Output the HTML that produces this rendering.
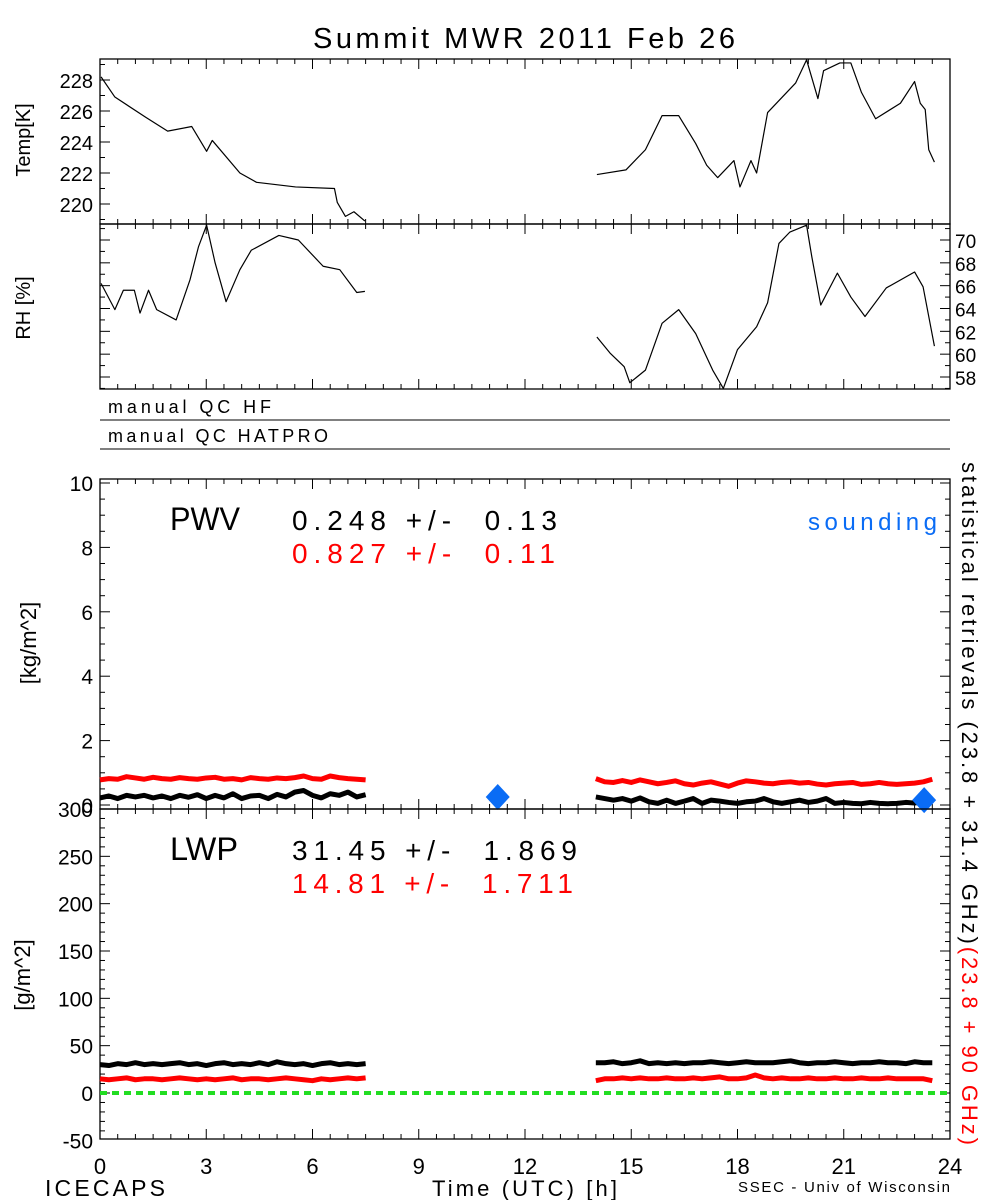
<!DOCTYPE html>
<html><head><meta charset="utf-8"><style>
html,body{margin:0;padding:0;background:#fff;}
svg{display:block;font-family:"Liberation Sans","DejaVu Sans",sans-serif;}
</style></head><body>
<svg id="c" width="1000" height="1200" viewBox="0 0 1000 1200" xmlns="http://www.w3.org/2000/svg">
<rect width="1000" height="1200" fill="#fff"/>
<text x="313" y="48" font-size="29" textLength="422" lengthAdjust="spacing">Summit MWR 2011 Feb 26</text>
<g id="g"></g>
</svg>
<script>
// ---- data ----
const tempT1=[0.03,0.42,1.29,1.91,2.59,3.01,3.17,3.95,4.42,5.52,6.62,6.7,6.93,7.17,7.48];
const tempV1=[228.2,226.9,225.6,224.7,225.0,223.4,224.1,222.0,221.4,221.1,221.0,220.1,219.2,219.5,218.9];
const tempT2=[14.03,14.85,15.4,15.87,16.34,16.82,17.13,17.44,17.9,18.07,18.38,18.54,18.85,19.64,19.95,20.27,20.43,20.89,21.2,21.5,21.9,22.6,23.0,23.16,23.3,23.4,23.56];
const tempV2=[221.9,222.2,223.5,225.7,225.7,223.9,222.5,221.7,222.8,221.1,222.8,222.0,225.9,227.8,229.3,226.8,228.6,229.1,229.1,227.2,225.5,226.5,227.9,226.5,226.1,223.5,222.7];
const rhT1=[0.03,0.42,0.66,0.97,1.13,1.37,1.6,2.15,2.54,2.78,3.01,3.25,3.56,3.95,4.27,5.05,5.6,6.3,6.77,7.25,7.48];
const rhV1=[66.2,63.9,65.6,65.6,63.6,65.6,63.9,63.0,66.5,69.4,71.3,68.0,64.6,67.4,69.1,70.4,70.0,67.7,67.4,65.4,65.5];
const rhT2=[14.03,14.4,14.8,14.96,15.4,15.87,16.34,16.82,17.3,17.6,18.0,18.54,18.85,19.17,19.48,19.95,20.1,20.35,20.82,21.2,21.6,22.2,23.0,23.24,23.56];
const rhV2=[61.5,60.1,58.9,57.5,58.6,62.7,63.9,61.8,58.6,57.0,60.4,62.4,64.5,69.7,70.7,71.3,68.5,64.3,67.1,65.0,63.3,65.8,67.2,65.9,60.7];
const seg1Start=0, seg2Start=14, step=0.25;
const pwvBlack1=[0.22,0.28,0.2,0.3,0.25,0.3,0.22,0.28,0.2,0.3,0.24,0.32,0.2,0.3,0.22,0.35,0.2,0.28,0.3,0.2,0.33,0.25,0.4,0.45,0.3,0.22,0.35,0.3,0.4,0.25,0.32];
const pwvRed1=[0.78,0.82,0.8,0.88,0.84,0.8,0.86,0.82,0.8,0.85,0.82,0.8,0.84,0.86,0.8,0.82,0.78,0.85,0.82,0.8,0.84,0.82,0.85,0.9,0.82,0.8,0.9,0.85,0.82,0.8,0.78];
const pwvBlack2=[0.25,0.2,0.15,0.2,0.12,0.22,0.1,0.05,0.15,0.05,0.12,0.2,0.05,0.15,0.12,0.08,0.05,0.1,0.12,0.2,0.1,0.05,0.1,0.15,0.08,0.12,0.2,0.05,0.08,0.05,0.04,0.08,0.05,0.04,0.05,0.08,0.06,0.1,0.2];
const pwvRed2=[0.82,0.72,0.7,0.76,0.7,0.78,0.72,0.66,0.7,0.75,0.66,0.62,0.68,0.72,0.65,0.58,0.68,0.75,0.72,0.68,0.66,0.7,0.72,0.68,0.7,0.65,0.62,0.66,0.68,0.7,0.64,0.66,0.7,0.66,0.64,0.66,0.68,0.72,0.8];
const lwpBlack1=[30,29,31,30,32,30,31,30,31,32,30,31,29,31,32,30,31,30,32,30,33,31,30,31,29,31,32,30,31,30,31];
const lwpRed1=[15,14,15,16,14,15,15,14,15,16,15,14,15,14,15,16,14,15,15,14,15,16,15,14,13,15,14,15,16,15,16];
const lwpBlack2=[32,32,33,31,32,34,31,32,31,32,31,32,32,33,32,31,32,33,32,32,32,33,34,32,31,32,32,33,32,31,32,32,33,32,32,31,33,32,32];
const lwpRed2=[13,15,15,16,15,16,15,15,16,15,15,16,15,16,17,15,15,16,19,16,15,16,15,15,16,15,15,16,15,15,16,15,15,16,15,15,15,15,13];
const soundT=[11.23,23.27];
const soundPwv=[0.25,0.15];
const xTicks=[0,3,6,9,12,15,18,21,24];
const tempTicks=[220,222,224,226,228];
const rhTicks=[58,60,62,64,66,68,70];
const pwvTicks=[0,2,4,6,8,10];
const lwpTicks=[-50,0,50,100,150,200,250,300];

// ---- axes ----
const X0=100,X1=950;
const xs=h=>X0+(h/24)*(X1-X0);
const lin=(v0,v1,p0,p1)=>v=>p0+(v-v0)/(v1-v0)*(p1-p0);
const yT=lin(220,228,204,80), yRH=lin(58,70,377,240), yP=lin(0,10,805,483), yL=lin(0,300,1093,809);
const NS='http://www.w3.org/2000/svg', G=document.getElementById('g');
function mk(tag,at,txt){const e=document.createElementNS(NS,tag);for(const k in at)e.setAttribute(k,at[k]);if(txt!==undefined)e.textContent=txt;G.appendChild(e);return e;}
function frame(top,bot,name){
  const r=mk('rect',{x:X0,y:top,width:X1-X0,height:bot-top,fill:'none',stroke:'#000','stroke-width':1.3});
  
  
  for(let h=0;h<=24;h+=0.5){const L=(h%3===0)?10:5;
    mk('line',{x1:xs(h),x2:xs(h),y1:bot,y2:bot-L,stroke:'#000'});
    mk('line',{x1:xs(h),x2:xs(h),y1:top,y2:top+L,stroke:'#000'});}
}
function yticks(vals,ys,top,bot,side,minor,labels,fs){
  for(let v=vals[0]-minor*20;v<=vals[vals.length-1]+minor*20;v+=minor){const y=ys(v);if(y<top+0.5||y>bot-0.5)continue;
    const isMaj=vals.some(m=>Math.abs(m-v)<1e-6);const L=isMaj?10:5;
    if(side!=='r')mk('line',{x1:X0,x2:X0+L,y1:y,y2:y,stroke:'#000'});
    if(side!=='l')mk('line',{x1:X1,x2:X1-L,y1:y,y2:y,stroke:'#000'});}
  if(labels) vals.forEach(v=>{const y=ys(v);const t=mk('text',{x:labels==='r'?955:93,y:y+8,'font-size':fs||21,'text-anchor':labels==='r'?'start':'end'},String(v));
    
    });
}
function line(T,V,ys,color,w,name){
  const p=mk('polyline',{points:T.map((t,i)=>xs(t)+','+ys(V[i])).join(' '),fill:'none',stroke:color,'stroke-width':w,'stroke-linejoin':'round'});
  
  
}
function band(start,V,ys,color,name){
  const T=V.map((_,i)=>start+i*step);
  line(T,V,ys,color,5,name);
}
frame(59,224,'temp-panel');frame(224,389,'rh-panel');
yticks(tempTicks,yT,59,224,'l',1,'l',20);
yticks(rhTicks,yRH,224,389,'b',1,'r',19);
line(tempT1,tempV1,yT,'#000',1.2,'temp-line-1');line(tempT2,tempV2,yT,'#000',1.2,'temp-line-2');
line(rhT1,rhV1,yRH,'#000',1.2,'rh-line-1');line(rhT2,rhV2,yRH,'#000',1.2,'rh-line-2');
mk('line',{x1:X0,x2:X1,y1:420,y2:420,stroke:'#000'});mk('line',{x1:X0,x2:X1,y1:449,y2:449,stroke:'#000'});
let q=mk('text',{x:108,y:413,'font-size':18,textLength:163,lengthAdjust:'spacing'},'manual QC HF');
q=mk('text',{x:108,y:442,'font-size':18,textLength:220,lengthAdjust:'spacing'},'manual QC HATPRO');
frame(479,809,'pwv-panel');
yticks(pwvTicks,yP,479,809,'b',0.5,'l',21);
band(seg1Start,pwvRed1,yP,'#f00','pwv-red-1');band(seg2Start,pwvRed2,yP,'#f00','pwv-red-2');
band(seg1Start,pwvBlack1,yP,'#000','pwv-black-1');band(seg2Start,pwvBlack2,yP,'#000','pwv-black-2');
soundT.forEach((t,i)=>{const x=xs(t),y=yP(soundPwv[i]);
  const d=mk('polygon',{points:`${x},${y-13} ${x+12},${y} ${x},${y+13} ${x-12},${y}`,fill:'#0a6cf5'});
  
  });
frame(809,1139,'lwp-panel');
yticks(lwpTicks,yL,809,1139,'b',10,'l',21);
mk('line',{x1:X0,x2:X1,y1:yL(0),y2:yL(0),stroke:'#22dd22','stroke-width':4,'stroke-dasharray':'7,5'});
band(seg1Start,lwpBlack1,yL,'#000','lwp-black-1');band(seg2Start,lwpBlack2,yL,'#000','lwp-black-2');
band(seg1Start,lwpRed1,yL,'#f00','lwp-red-1');band(seg2Start,lwpRed2,yL,'#f00','lwp-red-2');
xTicks.forEach(h=>{const t=mk('text',{x:xs(h),y:1174,'font-size':22,'text-anchor':'middle'},String(h));
  
  });
</script>
<div style="position:absolute;left:0;top:0;width:1000px;height:1200px;pointer-events:none;">
<svg width="1000" height="1200" style="position:absolute;left:0;top:0" font-family="Liberation Sans, DejaVu Sans, sans-serif">
<text transform="translate(30,140) rotate(-90)" font-size="20" text-anchor="middle">Temp[K]</text>
<text transform="translate(30,308) rotate(-90)" font-size="20" text-anchor="middle">RH [%]</text>
<text transform="translate(36,643) rotate(-90)" font-size="22" text-anchor="middle">[kg/m^2]</text>
<text transform="translate(30,975) rotate(-90)" font-size="22" text-anchor="middle">[g/m^2]</text>
<text x="170" y="530" font-size="32" textLength="70" lengthAdjust="spacingAndGlyphs">PWV</text>
<text x="292" y="530" font-size="28" xml:space="preserve" textLength="265" lengthAdjust="spacing">0.248 +/-  0.13</text>
<text x="292" y="563" font-size="28" fill="#f00" xml:space="preserve" textLength="263" lengthAdjust="spacing">0.827 +/-  0.11</text>
<text x="808" y="530" font-size="24" fill="#0a6cf5" textLength="129" lengthAdjust="spacing">sounding</text>
<text x="170" y="860" font-size="32" textLength="68" lengthAdjust="spacingAndGlyphs">LWP</text>
<text x="292" y="860" font-size="28" xml:space="preserve" textLength="285" lengthAdjust="spacing">31.45 +/-  1.869</text>
<text x="292" y="893" font-size="28" fill="#f00" xml:space="preserve" textLength="281" lengthAdjust="spacing">14.81 +/-  1.711</text>
<text transform="translate(962,462) rotate(90)" font-size="22" textLength="683" lengthAdjust="spacing">statistical retrievals (23.8 + 31.4 GHz)<tspan fill="#f00">(23.8 + 90 GHz)</tspan></text>
<text x="45" y="1196" font-size="23" textLength="120" lengthAdjust="spacing">ICECAPS</text>
<text x="432" y="1196" font-size="22" textLength="185" lengthAdjust="spacing">Time (UTC) [h]</text>
<text x="738" y="1192" font-size="15" textLength="212" lengthAdjust="spacing">SSEC - Univ of Wisconsin</text>
</svg></div>
</body></html>
